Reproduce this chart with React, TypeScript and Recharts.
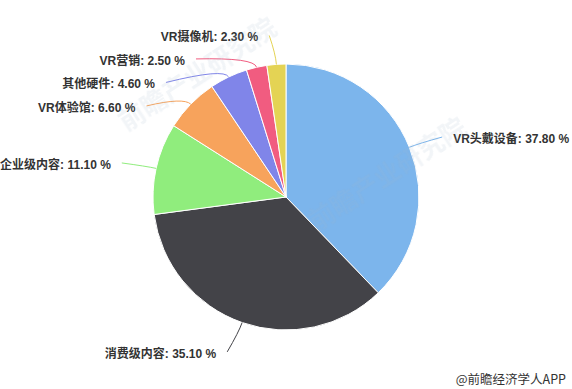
import { PieChart, Pie, Cell } from "recharts"

const names = ["VR头戴设备", "消费级内容", "企业级内容", "VR体验馆", "其他硬件", "VR营销", "VR摄像机"]
const shares = [37.8, 35.1, 11.1, 6.6, 4.6, 2.5, 2.3]
const colors = ["#7cb5ec", "#434348", "#90ed7d", "#f7a35c", "#8085e9", "#f15c80", "#e4d354"]

const W = 572
const H = 389
const CX = 286
const CY = 197
const R = 133
const LR = R + 30 // label circle
const GAP = 23.5

const data = names.map((name, i) => ({ name, value: shares[i] }))

// highcharts-like label layout: natural spot on a circle, then pushed apart on each side
const layout = (() => {
  const total = shares.reduce((a, b) => a + b, 0)
  let cum = 0
  const items = shares.map((v, i) => {
    const ang = 90 - (360 * (cum + v / 2)) / total
    cum += v
    const rad = (ang * Math.PI) / 180
    const right = Math.cos(rad) >= 0
    return { i, right, y: CY - LR * Math.sin(rad), x: 0 }
  })
  for (const side of [true, false]) {
    const list = items.filter((d) => d.right === side).sort((a, b) => a.y - b.y)
    for (let k = 1; k < list.length; k++) {
      if (list[k].y < list[k - 1].y + GAP) list[k].y = list[k - 1].y + GAP
    }
  }
  items.forEach((d) => {
    const dy = Math.min(Math.abs(d.y - CY), LR)
    const dx = Math.sqrt(LR * LR - dy * dy)
    d.x = d.right ? CX + dx : CX - dx
  })
  return items
})()

const renderLabel = (props: any) => {
  const { cx, cy, midAngle, outerRadius, index, name, value } = props
  const rad = (-midAngle * Math.PI) / 180
  const ex = cx + outerRadius * Math.cos(rad)
  const ey = cy + outerRadius * Math.sin(rad)
  const bx = cx + (outerRadius + 10) * Math.cos(rad)
  const by = cy + (outerRadius + 10) * Math.sin(rad)
  const l = layout[index]
  const sgn = l.right ? 1 : -1
  const lx = l.x + sgn * 5
  const ly = l.y + 1
  return (
    <g>
      <path
        d={`M${lx},${ly} Q${bx},${by} ${ex},${ey}`}
        fill="none"
        stroke={colors[index]}
        strokeWidth={1}
      />
      <text
        x={l.x + sgn * 16}
        y={l.y + 3}
        textAnchor={l.right ? "start" : "end"}
        dominantBaseline="central"
        fill="#333333"
        fontSize={12}
        fontWeight="bold"
        fontFamily="'Liberation Sans', 'Noto Sans CJK SC', sans-serif"
      >
        {`${name}: ${value.toFixed(2)} %`}
      </text>
    </g>
  )
}

export default function App() {
  return (
    <div style={{ position: "absolute", left: 0, top: 0, width: W, height: H, background: "#fff" }}>
      <PieChart width={W} height={H} margin={{ top: 0, right: 0, bottom: 0, left: 0 }}>
        <Pie
          data={data}
          dataKey="value"
          nameKey="name"
          cx={CX}
          cy={CY}
          outerRadius={R}
          startAngle={90}
          endAngle={-270}
          stroke="#ffffff"
          strokeWidth={1}
          label={renderLabel}
          labelLine={false}
          isAnimationActive={false}
        >
          {data.map((d, i) => (
            <Cell key={d.name} fill={colors[i]} />
          ))}
        </Pie>
      </PieChart>
      <svg
        width={W}
        height={H}
        style={{ position: "absolute", left: 0, top: 0, pointerEvents: "none" }}
      >
        <g fontFamily="'Noto Sans CJK SC', sans-serif" fontWeight="bold" fill="#9fb4c8" opacity={0.14}>
          <text x={386} y={172} fontSize={26} textAnchor="middle" dominantBaseline="central" transform="rotate(-33 386 172)">
            前瞻产业研究院
          </text>
          <text x={196} y={72} fontSize={26} textAnchor="middle" dominantBaseline="central" transform="rotate(-33 196 72)">
            前瞻产业研究院
          </text>
        </g>
        <text
          x={566}
          y={378}
          textAnchor="end"
          dominantBaseline="central"
          fontSize={12.5}
          fill="#333333"
          fontFamily="'Noto Sans CJK SC', sans-serif"
        >
          @前瞻经济学人APP
        </text>
      </svg>
    </div>
  )
}
